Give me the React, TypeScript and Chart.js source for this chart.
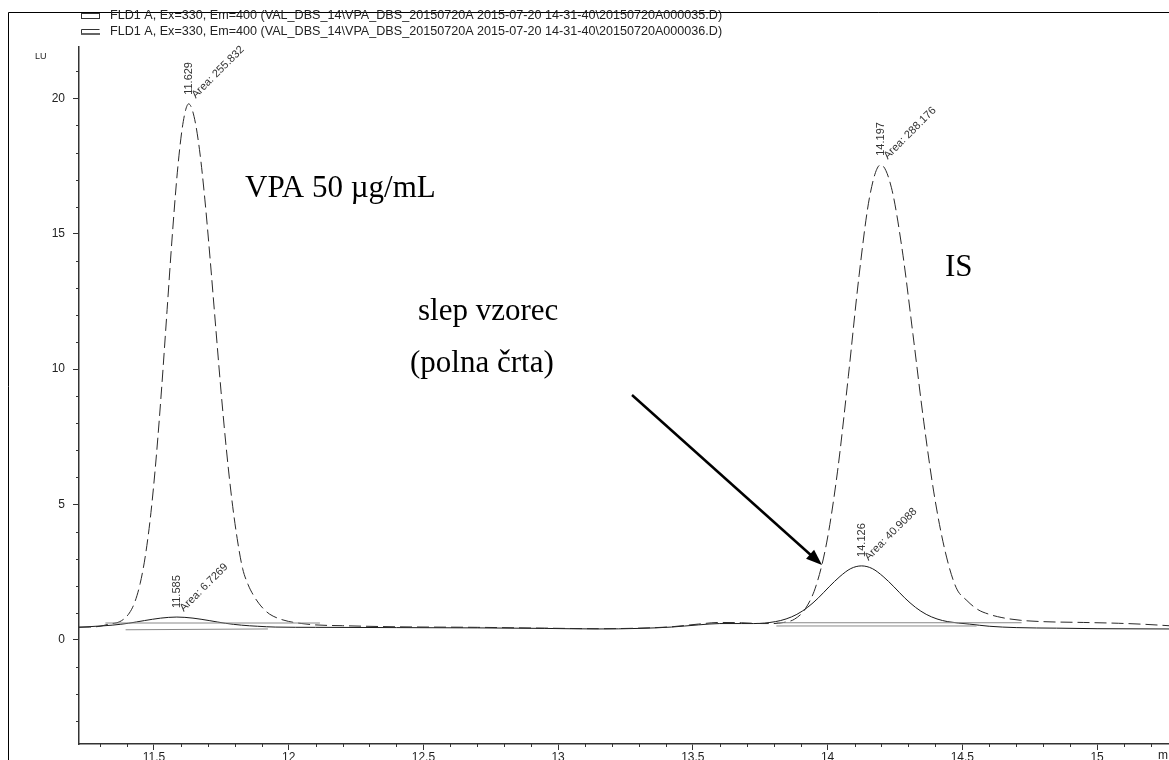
import React, { useEffect, useRef } from 'react';
import { Chart, registerables } from 'chart.js';

Chart.register(...registerables);

// ---------- data ----------
const legendLabels = [
  'FLD1 A, Ex=330, Em=400 (VAL_DBS_14\\VPA_DBS_20150720A 2015-07-20 14-31-40\\20150720A000035.D)',
  'FLD1 A, Ex=330, Em=400 (VAL_DBS_14\\VPA_DBS_20150720A 2015-07-20 14-31-40\\20150720A000036.D)',
];

const xTickLabels = ['11.5', '12', '12.5', '13', '13.5', '14', '14.5', '15'];
const yTickLabels = ['0', '5', '10', '15', '20'];

// dashed trace (VPA 50 µg/mL sample)
const dashedTimes = [
  11.222, 11.26, 11.3, 11.329, 11.379, 11.409, 11.429, 11.449, 11.469, 11.489, 11.509, 11.529,
  11.549, 11.569, 11.589, 11.609, 11.629, 11.649, 11.669, 11.689, 11.709, 11.729, 11.749, 11.769,
  11.789, 11.809, 11.829, 11.849, 11.869, 11.889, 11.909, 11.929, 11.959, 11.999, 12.049, 12.099,
  12.2, 12.4, 12.7, 12.95, 13.15, 13.3, 13.42, 13.52, 13.6, 13.68, 13.757, 13.797, 13.837, 13.877,
  13.917, 13.957, 13.997, 14.037, 14.077, 14.117, 14.157, 14.197, 14.237, 14.277, 14.317, 14.357,
  14.397, 14.437, 14.477, 14.517, 14.557, 14.597, 14.647, 14.717, 14.8, 14.95, 15.08, 15.18, 15.267,
];
const dashedLU = [
  0.47, 0.47, 0.5, 0.57, 0.7, 0.99, 1.39, 2.08, 3.15, 4.7, 6.79, 9.34,
  12.2, 15.05, 17.49, 19.15, 19.8, 19.33, 18.12, 16.28, 14.02, 11.59, 9.19, 7.03,
  5.2, 3.74, 2.64, 2.05, 1.65, 1.35, 1.12, 0.95, 0.8, 0.68, 0.6, 0.55,
  0.52, 0.48, 0.46, 0.43, 0.41, 0.43, 0.48, 0.58, 0.64, 0.63, 0.6, 0.6, 0.64, 0.76,
  1.14, 1.99, 3.61, 6.23, 9.73, 13.47, 16.42, 17.55, 16.7, 14.4, 11.27, 8.05,
  5.28, 3.24, 1.93, 1.45, 1.12, 0.95, 0.82, 0.72, 0.67, 0.64, 0.61, 0.57, 0.52,
];

// solid trace (blank sample, "polna črta")
const solidTimes = [
  11.222, 11.285, 11.345, 11.405, 11.465, 11.525, 11.585, 11.645, 11.705, 11.765, 11.825, 11.885,
  11.95, 12.1, 12.4, 12.7, 12.95, 13.15, 13.3, 13.42, 13.52, 13.6, 13.68, 13.726, 13.806, 13.846,
  13.886, 13.926, 13.966, 14.006, 14.046, 14.086, 14.126, 14.166, 14.206, 14.246, 14.286, 14.326,
  14.366, 14.406, 14.446, 14.526, 14.6, 14.7, 14.85, 15.0, 15.267,
];
const solidLU = [
  0.46, 0.5, 0.54, 0.61, 0.71, 0.8, 0.84, 0.8, 0.71, 0.61, 0.54, 0.5,
  0.47, 0.46, 0.45, 0.44, 0.42, 0.4, 0.42, 0.47, 0.55, 0.6, 0.6, 0.6, 0.67, 0.77,
  0.94, 1.2, 1.55, 1.96, 2.34, 2.63, 2.73, 2.63, 2.34, 1.96, 1.55, 1.2,
  0.94, 0.77, 0.67, 0.58, 0.5, 0.45, 0.43, 0.41, 0.4,
];

// integration baselines drawn by the data system
const baseVpaTimes = [11.32, 12.116];
const baseVpaLU = [0.62, 0.62];
const baseBlankTimes = [11.395, 11.923];
const baseBlankLU = [0.37, 0.4];
const baseIsTimes = [13.811, 14.72];
const baseIsLU = [0.63, 0.63];
const baseIsBlankTimes = [13.81, 14.553];
const baseIsBlankLU = [0.51, 0.51];

// peak annotations
const peakTimes = [11.629, 11.585, 14.197, 14.126];
const peakTops = [19.8, 0.84, 17.55, 2.73];
const peakRT = ['11.629', '11.585', '14.197', '14.126'];
const peakAreas = ['255.832', '6.7269', '288.176', '40.9088'];

const toPoints = (t: number[], v: number[]) => t.map((x, i) => ({ x, y: v[i] }));

const isMajorX = (v: number) => Math.abs(v * 2 - Math.round(v * 2)) < 1e-6;
const isMajorY = (v: number) => Math.abs(v / 5 - Math.round(v / 5)) < 1e-6;

const SANS = '"Liberation Sans", Arial, sans-serif';
const SERIF = '"Liberation Serif", "Times New Roman", serif';

const overlay = {
  id: 'overlay',
  beforeDraw(chart: any) {
    const c = chart.ctx;
    c.save();
    c.fillStyle = '#ffffff';
    c.fillRect(0, 0, chart.width, chart.height);
    c.restore();
  },
  afterDraw(chart: any) {
    const c = chart.ctx;
    const xs = chart.scales.x;
    const ys = chart.scales.y;
    const area = chart.chartArea;
    c.save();

    // minor ticks
    c.strokeStyle = '#333';
    c.lineWidth = 1;
    xs.ticks.forEach((t: any) => {
      if (isMajorX(t.value)) return;
      const px = Math.round(xs.getPixelForValue(t.value)) + 0.5;
      c.beginPath();
      c.moveTo(px, area.bottom);
      c.lineTo(px, area.bottom + 3);
      c.stroke();
    });
    ys.ticks.forEach((t: any) => {
      if (isMajorY(t.value)) return;
      const py = Math.round(ys.getPixelForValue(t.value)) + 0.5;
      c.beginPath();
      c.moveTo(area.left, py);
      c.lineTo(area.left - 3, py);
      c.stroke();
    });

    // outer frame
    c.strokeStyle = '#000';
    c.lineWidth = 1;
    c.beginPath();
    c.moveTo(8.5, chart.height);
    c.lineTo(8.5, 12.5);
    c.lineTo(chart.width, 12.5);
    c.stroke();

    // axis unit labels
    c.fillStyle = '#222';
    c.font = `9px ${SANS}`;
    c.textAlign = 'left';
    c.textBaseline = 'middle';
    c.fillText('LU', 35, 57);
    c.font = `12px ${SANS}`;
    c.textBaseline = 'top';
    c.fillText('m', 1158, 750);

    // legend
    c.font = `12.6px ${SANS}`;
    c.textBaseline = 'middle';
    c.fillStyle = '#222';
    c.fillText(legendLabels[0], 110, 16);
    c.fillText(legendLabels[1], 110, 32);
    c.strokeStyle = '#333';
    c.strokeRect(81.5, 13.5, 18, 5);
    c.beginPath();
    c.moveTo(81.5, 29.5);
    c.lineTo(99.5, 29.5);
    c.moveTo(81.5, 29.5);
    c.lineTo(81.5, 33.5);
    c.stroke();
    c.lineWidth = 1.5;
    c.beginPath();
    c.moveTo(81, 34);
    c.lineTo(100, 34);
    c.stroke();

    // peak labels
    c.fillStyle = '#333';
    c.font = `11px ${SANS}`;
    peakTimes.forEach((t, i) => {
      const px = xs.getPixelForValue(t);
      const py = ys.getPixelForValue(peakTops[i]);
      c.save();
      c.translate(px, py - 9);
      c.rotate(-Math.PI / 2);
      c.textAlign = 'left';
      c.textBaseline = 'middle';
      c.fillText(peakRT[i], 0, 0);
      c.restore();
      c.save();
      c.translate(px + 7, py - 5);
      c.rotate(-Math.PI / 4);
      c.textAlign = 'left';
      c.textBaseline = 'alphabetic';
      c.fillText('Area: ' + peakAreas[i], 0, 0);
      c.restore();
    });

    // annotations
    c.fillStyle = '#000';
    c.font = `31px ${SERIF}`;
    c.textAlign = 'left';
    c.textBaseline = 'alphabetic';
    c.fillText('VPA 50 µg/mL', 245, 197);
    c.fillText('IS', 945, 276);
    c.fillText('slep vzorec', 418, 320);
    c.fillText('(polna črta)', 410, 372);

    // arrow
    const x0 = 632, y0 = 395, x1 = 822, y1 = 565;
    const ang = Math.atan2(y1 - y0, x1 - x0);
    const hl = 16, hw = 6;
    c.strokeStyle = '#000';
    c.lineWidth = 2.5;
    c.beginPath();
    c.moveTo(x0, y0);
    c.lineTo(x1 - hl * 0.8 * Math.cos(ang), y1 - hl * 0.8 * Math.sin(ang));
    c.stroke();
    c.beginPath();
    c.moveTo(x1, y1);
    c.lineTo(x1 - hl * Math.cos(ang) + hw * Math.sin(ang), y1 - hl * Math.sin(ang) - hw * Math.cos(ang));
    c.lineTo(x1 - hl * Math.cos(ang) - hw * Math.sin(ang), y1 - hl * Math.sin(ang) + hw * Math.cos(ang));
    c.closePath();
    c.fill();

    c.restore();
  },
};

export default function App() {
  const ref = useRef<HTMLCanvasElement | null>(null);

  useEffect(() => {
    document.body.style.margin = '0';
    const canvas = ref.current;
    if (!canvas) return;
    const baseStyle = { borderColor: '#8a8a8a', borderWidth: 1, pointRadius: 0, fill: false };
    const chart = new Chart(canvas, {
      type: 'line',
      data: {
        datasets: [
          { ...baseStyle, data: toPoints(baseVpaTimes, baseVpaLU) },
          { ...baseStyle, data: toPoints(baseBlankTimes, baseBlankLU) },
          { ...baseStyle, data: toPoints(baseIsTimes, baseIsLU) },
          { ...baseStyle, data: toPoints(baseIsBlankTimes, baseIsBlankLU) },
          {
            data: toPoints(dashedTimes, dashedLU),
            borderColor: '#2a2a2a',
            borderWidth: 1,
            borderDash: [12, 5],
            pointRadius: 0,
            fill: false,
            cubicInterpolationMode: 'monotone',
          },
          {
            data: toPoints(solidTimes, solidLU),
            borderColor: '#1a1a1a',
            borderWidth: 1,
            pointRadius: 0,
            fill: false,
            cubicInterpolationMode: 'monotone',
          },
        ],
      } as any,
      options: {
        animation: false,
        responsive: false,
        maintainAspectRatio: false,
        layout: { padding: { top: 47, left: 0, right: 0, bottom: 0 } },
        plugins: { legend: { display: false }, tooltip: { enabled: false } },
        scales: {
          x: {
            type: 'linear',
            min: 11.222,
            max: 15.267,
            afterFit: (s: any) => { s.height = 16; },
            border: { display: true, color: '#333', width: 1.5 },
            grid: {
              drawOnChartArea: false,
              drawTicks: true,
              tickLength: 6,
              tickColor: (ctx: any) => (ctx.tick && isMajorX(ctx.tick.value) ? '#333' : 'rgba(0,0,0,0)'),
            },
            ticks: {
              stepSize: 0.1,
              includeBounds: false,
              autoSkip: false,
              maxRotation: 0,
              padding: 0,
              color: '#222',
              font: { family: SANS, size: 12 },
              callback: (v: any) => {
                if (!isMajorX(v)) return '';
                const lab = xTickLabels.find((l) => Math.abs(parseFloat(l) - v) < 1e-6);
                return lab ?? '';
              },
            },
          },
          y: {
            type: 'linear',
            min: -3.85,
            max: 21.9,
            afterFit: (s: any) => { s.width = 79; },
            border: { display: true, color: '#333', width: 1.5 },
            grid: {
              drawOnChartArea: false,
              drawTicks: true,
              tickLength: 6,
              tickColor: (ctx: any) => (ctx.tick && isMajorY(ctx.tick.value) ? '#333' : 'rgba(0,0,0,0)'),
            },
            ticks: {
              stepSize: 1,
              includeBounds: false,
              autoSkip: false,
              padding: 8,
              color: '#222',
              font: { family: SANS, size: 12 },
              callback: (v: any) => {
                if (!isMajorY(v)) return '';
                const lab = yTickLabels.find((l) => Math.abs(parseFloat(l) - v) < 1e-6);
                return lab ?? '';
              },
            },
          },
        },
      } as any,
      plugins: [overlay],
    });
    return () => chart.destroy();
  }, []);

  return (
    <div style={{ width: 1169, height: 760 }}>
      <canvas ref={ref} width={1169} height={760} style={{ display: 'block', width: 1169, height: 760 }} />
    </div>
  );
}
